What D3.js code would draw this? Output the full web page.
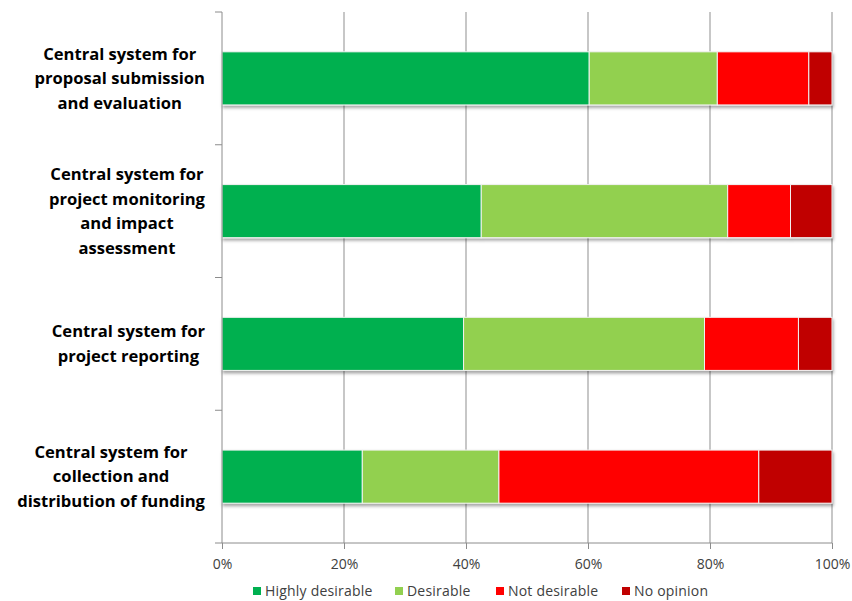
<!DOCTYPE html>
<html>
<head>
<meta charset="utf-8">
<script src="https://cdn.jsdelivr.net/npm/d3@7"></script>
<style>
  html, body { margin: 0; padding: 0; background: #fff; }
  svg { display: block; }
</style>
</head>
<body>
<svg id="chart" width="852" height="601"></svg>
<script>
// Survey responses: share of respondents per option (percent)
const categories = [
  ["Central system for", "proposal submission", "and evaluation"],
  ["Central system for", "project monitoring", "and impact", "assessment"],
  ["Central system for", "project reporting"],
  ["Central system for", "collection and", "distribution of funding"]
];
const seriesNames = ["Highly desirable", "Desirable", "Not desirable", "No opinion"];
const highlyDesirable = [60.2, 42.5, 39.6, 23.0];
const desirable       = [21.0, 40.4, 39.5, 22.4];
const notDesirable    = [15.0, 10.3, 15.4, 42.6];
const noOpinion       = [3.8, 6.8, 5.5, 12.0];
const xTicks = [0, 20, 40, 60, 80, 100];

const colors = ["#00B050", "#92D050", "#FF0000", "#C00000"];
const FONT = "'Open Sans', Lato, sans-serif";

const svg = d3.select("#chart");
const margin = { left: 222, right: 20, top: 12, bottom: 58 };
const W = 852, H = 601;

const keys = categories.map((c, i) => "c" + i);
const rows = keys.map((k, i) => ({
  key: k,
  "Highly desirable": highlyDesirable[i],
  "Desirable": desirable[i],
  "Not desirable": notDesirable[i],
  "No opinion": noOpinion[i]
}));

const x = d3.scaleLinear().domain([0, 100]).range([margin.left, W - margin.right]);
const y = d3.scaleBand().domain(keys).range([margin.top, H - margin.bottom])
  .paddingInner(0.6).paddingOuter(0.3);

const defs = svg.append("defs");
const f = defs.append("filter").attr("id", "shadow")
  .attr("x", "-5%").attr("y", "-20%").attr("width", "110%").attr("height", "150%");
f.append("feDropShadow").attr("dx", 1).attr("dy", 2.5).attr("stdDeviation", 1.6)
  .attr("flood-color", "#000").attr("flood-opacity", 0.35);

const yBottom = H - margin.bottom;

// vertical gridlines
svg.append("g").selectAll("line").data(xTicks.slice(1)).join("line")
  .attr("x1", d => x(d)).attr("x2", d => x(d))
  .attr("y1", margin.top).attr("y2", yBottom)
  .attr("stroke", "#8f8f8f").attr("stroke-width", 1);

// stacked bars
const stack = d3.stack().keys(seriesNames)(rows);
const barsG = svg.append("g").attr("filter", "url(#shadow)");
barsG.selectAll("g").data(stack).join("g")
  .attr("fill", (d, i) => colors[i])
  .selectAll("rect").data(d => d).join("rect")
  .attr("x", d => x(d[0]))
  .attr("y", d => y(d.data.key))
  .attr("width", d => x(d[1]) - x(d[0]))
  .attr("height", y.bandwidth())
  .attr("stroke", "#f2f2f2").attr("stroke-width", 1);

// x axis
const xAxis = d3.axisBottom(x).tickValues(xTicks).tickFormat(d => d + "%")
  .tickSize(6).tickPadding(10).tickSizeOuter(0);
const gx = svg.append("g").attr("transform", `translate(0,${yBottom})`).call(xAxis);
gx.select(".domain").remove();
gx.append("line").attr("x1", margin.left - 7).attr("x2", x(100))
  .attr("stroke", "#8c8c8c");
gx.selectAll(".tick line").attr("stroke", "#8c8c8c");
gx.selectAll(".tick text").attr("fill", "#404040")
  .style("font-family", FONT).style("font-size", "14px");

// y axis line and category boundary ticks
svg.append("line").attr("x1", margin.left).attr("x2", margin.left)
  .attr("y1", margin.top).attr("y2", yBottom).attr("stroke", "#8c8c8c");
const step = y.step();
const bounds = keys.map(k => y(k) - step * y.paddingInner() / 2);
bounds[0] = margin.top;
svg.append("g").selectAll("line").data(bounds).join("line")
  .attr("x1", margin.left - 7).attr("x2", margin.left)
  .attr("y1", d => d).attr("y2", d => d)
  .attr("stroke", "#8c8c8c");

// category labels, wrapped and centred as a block right-aligned to the axis
const lineH = 24.5;
const labelRight = 205;
categories.forEach((lines, i) => {
  const cy = y(keys[i]) + y.bandwidth() / 2;
  const g = svg.append("g");
  const texts = lines.map((t, j) => g.append("text")
    .attr("y", cy + (j - (lines.length - 1) / 2) * lineH)
    .attr("dy", "0.35em")
    .attr("text-anchor", "middle")
    .style("font-family", FONT)
    .style("font-weight", "bold")
    .style("font-size", "16.6px")
    .attr("fill", "#000")
    .text(t));
  const maxW = d3.max(texts, t => t.node().getComputedTextLength());
  texts.forEach(t => t.attr("x", labelRight - maxW / 2));
});

// legend
const legendX = [253, 395, 496, 622];
const legendY = 591;
const lg = svg.append("g");
seriesNames.forEach((name, i) => {
  lg.append("rect").attr("x", legendX[i]).attr("y", legendY - 4)
    .attr("width", 8).attr("height", 8).attr("fill", colors[i]);
  lg.append("text").attr("x", legendX[i] + 12).attr("y", legendY).attr("dy", "0.35em")
    .style("font-family", FONT).style("font-size", "14px")
    .style("letter-spacing", "0.2px")
    .attr("fill", "#404040").text(name);
});
</script>
</body>
</html>
